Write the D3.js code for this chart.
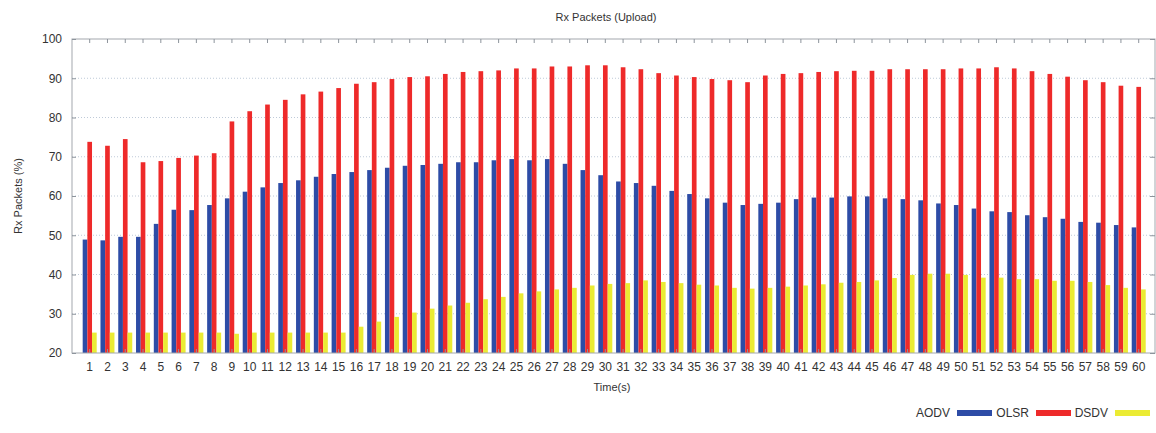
<!DOCTYPE html>
<html><head><meta charset="utf-8">
<script src="https://cdn.jsdelivr.net/npm/d3@7"></script>
<style>
body{margin:0;background:#fff;}
svg{display:block;font-family:"Liberation Sans",Arial,Helvetica,sans-serif;}
</style>
</head><body>
<svg id="chart" width="1156" height="433"></svg>
<script>
const times = [1,2,3,4,5,6,7,8,9,10,11,12,13,14,15,16,17,18,19,20,21,22,23,24,25,26,27,28,29,30,
  31,32,33,34,35,36,37,38,39,40,41,42,43,44,45,46,47,48,49,50,51,52,53,54,55,56,57,58,59,60];
const aodv = [48.9,48.7,49.6,49.6,52.9,56.5,56.4,57.7,59.4,61.1,62.2,63.3,64.0,64.9,65.6,66.1,66.6,67.2,67.7,67.9,
  68.2,68.6,68.6,69.1,69.4,69.1,69.4,68.2,66.6,65.3,63.7,63.3,62.6,61.3,60.5,59.4,58.3,57.7,58.0,58.3,
  59.2,59.6,59.6,59.9,59.9,59.4,59.2,58.9,58.1,57.7,56.8,56.1,55.9,55.1,54.6,54.2,53.4,53.2,52.6,52.0];
const olsr = [73.8,72.8,74.5,68.6,68.9,69.7,70.3,70.9,79.0,81.6,83.3,84.5,85.9,86.6,87.5,88.6,89.0,89.8,90.3,90.5,
  91.1,91.6,91.8,92.0,92.5,92.5,93.0,93.0,93.3,93.3,92.8,92.3,91.3,90.7,90.3,89.8,89.5,89.0,90.7,91.1,
  91.3,91.6,91.8,91.9,91.9,92.3,92.3,92.3,92.3,92.5,92.5,92.8,92.5,91.8,91.1,90.4,89.5,89.0,88.1,87.8];
const dsdv = [25.2,25.2,25.2,25.2,25.2,25.2,25.2,25.2,24.9,25.2,25.2,25.2,25.2,25.2,25.2,26.7,28.0,29.2,30.3,31.3,
  32.1,32.8,33.7,34.3,35.2,35.7,36.2,36.6,37.2,37.6,37.8,38.5,38.1,37.8,37.4,37.2,36.6,36.4,36.6,36.9,
  37.2,37.5,37.9,38.1,38.5,39.1,39.9,40.2,40.2,39.9,39.2,39.2,38.8,38.8,38.4,38.4,38.1,37.3,36.6,36.2];
const seriesNames = ["AODV","OLSR","DSDV"];
const seriesColors = ["#2d4ca6","#ee2a2a","#ebeb33"];
const yTicks = [20,30,40,50,60,70,80,90,100];

const svg = d3.select("#chart");
const L = 72, R = 1155, T = 39, B = 353;

const x = d3.scaleBand().domain(times).range([80.8, 1147.6]).paddingInner(0).paddingOuter(0);
const bw = x.bandwidth();
const xs = d3.scaleBand().domain(seriesNames).range([bw/2 - 7, bw/2 + 7]);
const y = d3.scaleLinear().domain([20,100]).range([B, T]);

// grid
svg.append("g").selectAll("line").data(yTicks.filter(v => v > 20 && v < 100)).join("line")
  .attr("x1", L).attr("x2", R).attr("y1", d => y(d)).attr("y2", d => y(d))
  .attr("stroke", "#bfcad8").attr("stroke-width", 1).attr("stroke-dasharray", "1,2");

// bars
const allSeries = [aodv, olsr, dsdv];
const gBars = svg.append("g");
seriesNames.forEach((name, si) => {
  gBars.append("g").selectAll("rect").data(times).join("rect")
    .attr("x", (t) => x(t) + xs(name))
    .attr("width", xs.bandwidth())
    .attr("y", (t, i) => y(allSeries[si][i]))
    .attr("height", (t, i) => y(20) - y(allSeries[si][i]))
    .attr("fill", seriesColors[si]);
});

// frame
svg.append("rect").attr("x", L).attr("y", T).attr("width", R - L).attr("height", B - T)
  .attr("fill", "none").attr("stroke", "#a3a8ae").attr("stroke-width", 1);

function styleAxis(g) {
  g.select(".domain").remove();
  g.selectAll(".tick line").attr("stroke", "#8d949c");
  g.selectAll(".tick text").attr("fill", "#333").style("font-size", "12px");
}

svg.append("g").attr("transform", `translate(0,${B})`)
  .call(d3.axisBottom(x).tickSizeInner(-4).tickSizeOuter(0).tickPadding(9))
  .call(styleAxis);
svg.append("g").attr("transform", `translate(0,${T})`)
  .call(d3.axisTop(x).tickSizeInner(-4).tickSizeOuter(0).tickFormat(""))
  .call(styleAxis);
svg.append("g").attr("transform", `translate(${L},0)`)
  .call(d3.axisLeft(y).tickValues(yTicks).tickSizeInner(-4).tickSizeOuter(0).tickPadding(10))
  .call(styleAxis);
svg.append("g").attr("transform", `translate(${R},0)`)
  .call(d3.axisRight(y).tickValues(yTicks).tickSizeInner(-5).tickSizeOuter(0).tickFormat(""))
  .call(styleAxis);

// titles
svg.append("text").attr("x", 606).attr("y", 21).attr("text-anchor", "middle")
  .attr("fill", "#333").style("font-size", "11px").text("Rx Packets (Upload)");
svg.append("text").attr("x", 612).attr("y", 391).attr("text-anchor", "middle")
  .attr("fill", "#333").style("font-size", "11px").text("Time(s)");
svg.append("text").attr("transform", "translate(22,196) rotate(-90)").attr("text-anchor", "middle")
  .attr("fill", "#333").style("font-size", "11px").text("Rx Packets (%)");

// legend
const leg = svg.append("g");
seriesNames.forEach((name, i) => {
  const sx = 957 + i * 79;
  leg.append("text").attr("x", sx - 7).attr("y", 417).attr("text-anchor", "end")
    .attr("fill", "#333").style("font-size", "12px").text(name);
  leg.append("rect").attr("x", sx).attr("y", 410).attr("width", 35).attr("height", 6)
    .attr("fill", seriesColors[i]);
});
</script>
</body></html>
